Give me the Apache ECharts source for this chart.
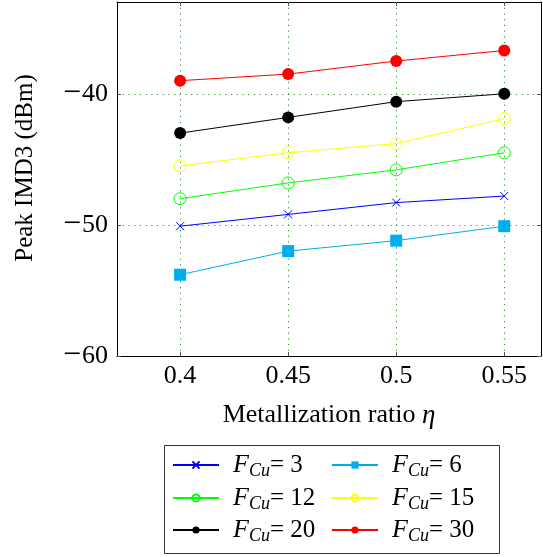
<!DOCTYPE html>
<html>
<head>
<meta charset="utf-8">
<script src="https://cdn.jsdelivr.net/npm/echarts@6/dist/echarts.min.js"></script>
<style>
  html, body { margin: 0; padding: 0; background: #ffffff; }
  #chart { width: 543px; height: 557px; }
</style>
</head>
<body>
<div id="chart"></div>
<script>
// Metallization ratio values on the x axis
const eta = [0.4, 0.45, 0.5, 0.55];

// Peak IMD3 (dBm) for each copper fill factor F_Cu
const imdF3  = [-50.1, -49.2, -48.3, -47.8];
const imdF6  = [-53.8, -52.0, -51.2, -50.1];
const imdF12 = [-48.0, -46.8, -45.8, -44.5];
const imdF15 = [-45.5, -44.5, -43.8, -41.9];
const imdF20 = [-43.0, -41.8, -40.6, -40.0];
const imdF30 = [-39.0, -38.5, -37.5, -36.7];

// Tick positions
const xTicks = [0.4, 0.45, 0.5, 0.55];
const yTicks = [-60, -50, -40];

const FONT = '"Liberation Serif", "DejaVu Serif", serif';
// typeset minus sign, slightly wider than the plain hyphen
const minus = v => String(v).replace('-', '{m|\u2212}');

const pairs = ys => eta.map((x, i) => [x, ys[i]]);

function lineSeries(name, ys, color, symbol, size, hollow) {
  return {
    name: name,
    type: 'line',
    data: pairs(ys),
    symbol: symbol,
    symbolSize: size,
    showAllSymbol: true,
    lineStyle: { color: color, width: 1 },
    itemStyle: hollow
      ? { color: 'none', borderColor: color, borderWidth: 1 }
      : { color: color, borderWidth: 0 },
    emphasis: { disabled: true },
    animation: false,
    z: 3
  };
}

const crossPath = 'path://M0,0L10,10M10,0L0,10';

const series = [
  lineSeries('3', imdF3, '#0000ff', crossPath, 8, true),
  lineSeries('6', imdF6, '#00aeef', 'rect', 12, false),
  lineSeries('12', imdF12, '#00ff00', 'circle', 12, true),
  lineSeries('15', imdF15, '#ffff00', 'circle', 12, true),
  lineSeries('20', imdF20, '#000000', 'circle', 12, false),
  lineSeries('30', imdF30, '#ff0000', 'circle', 12, false)
];

const gridDots = { color: '#2e9a2e', width: 1, type: [1.2, 4.5] };

const legendText = {
  fontFamily: FONT,
  fontSize: 25,
  color: '#000',
  rich: {
    f: { fontFamily: FONT, fontSize: 26, fontStyle: 'italic', color: '#000', padding: [0, 0, 0, 9] },
    s: { fontFamily: FONT, fontSize: 18, fontStyle: 'italic', color: '#000', padding: [13, 0, 0, 0] },
    n: { fontFamily: FONT, fontSize: 25, color: '#000' }
  }
};
const legendFmt = name => '{f|F}{s|Cu}{n|= ' + name + '}';

// one legend entry per cell of the 2 x 3 legend table
const legendCols = [172, 331];
const legendRows = [452, 485, 517];
const legendOrder = [['3', '6'], ['12', '15'], ['20', '30']];
const legends = [];
legendOrder.forEach((row, r) => {
  row.forEach((name, c) => {
    legends.push({
      orient: 'horizontal',
      left: legendCols[c],
      top: legendRows[r],
      itemWidth: 46,
      itemHeight: 9,
      itemGap: 12,
      textStyle: legendText,
      formatter: legendFmt,
      selectedMode: false,
      padding: 0,
      data: [name]
    });
  });
});

const option = {
  backgroundColor: '#ffffff',
  animation: false,
  grid: { left: 117, right: 2, top: 2, bottom: 201, show: false },
  xAxis: [
    {
      type: 'value', position: 'bottom',
      min: 0.3708, max: 0.567,
      name: 'Metallization ratio {e|\u03b7}',
      nameLocation: 'middle', nameGap: 46,
      nameTextStyle: {
        fontFamily: FONT, fontSize: 26, color: '#000',
        rich: { e: { fontFamily: FONT, fontSize: 27, fontStyle: 'italic', color: '#000' } }
      },
      axisLine: { show: true, lineStyle: { color: '#000', width: 1 } },
      axisTick: { show: true, inside: true, length: 4, customValues: xTicks, lineStyle: { color: '#555' } },
      axisLabel: { customValues: xTicks, fontFamily: FONT, fontSize: 26, color: '#000', margin: 7 },
      splitLine: { show: true, lineStyle: gridDots }
    },
    {
      type: 'value', position: 'top',
      min: 0.3708, max: 0.567,
      axisLine: { show: true, lineStyle: { color: '#000', width: 1 } },
      axisTick: { show: true, inside: true, length: 4, customValues: xTicks, lineStyle: { color: '#555' } },
      axisLabel: { show: false },
      splitLine: { show: false }
    }
  ],
  yAxis: [
    {
      type: 'value', position: 'left',
      min: -60, max: -33,
      axisLine: { show: true, lineStyle: { color: '#000', width: 1 } },
      axisTick: { show: true, inside: true, length: 4, customValues: yTicks, lineStyle: { color: '#555' } },
      axisLabel: {
        customValues: yTicks, fontFamily: FONT, fontSize: 26, color: '#000', margin: 9,
        formatter: v => minus(v),
        rich: {
          m: { fontFamily: FONT, fontSize: 32, color: '#000', padding: [0, 1, 0, 0] }
        }
      },
      splitLine: { show: true, lineStyle: gridDots }
    },
    {
      type: 'value', position: 'right',
      min: -60, max: -33,
      axisLine: { show: true, lineStyle: { color: '#000', width: 1 } },
      axisTick: { show: true, inside: true, length: 4, customValues: yTicks, lineStyle: { color: '#555' } },
      axisLabel: { show: false },
      splitLine: { show: false }
    }
  ],
  legend: legends,
  graphic: [
    {
      type: 'text',
      x: 25, y: 168,
      rotation: Math.PI / 2,
      style: {
        text: 'Peak IMD3 (dBm)',
        fontFamily: FONT, fontSize: 25, fill: '#000',
        textAlign: 'center', textVerticalAlign: 'middle'
      },
      silent: true
    },
    {
      type: 'rect',
      shape: { x: 164.5, y: 445.5, width: 335, height: 108 },
      style: { fill: 'none', stroke: '#333', lineWidth: 1 },
      silent: true
    }
  ],
  series: series
};

const chart = echarts.init(document.getElementById('chart'), null, { renderer: 'canvas' });
chart.setOption(option);
</script>
</body>
</html>
